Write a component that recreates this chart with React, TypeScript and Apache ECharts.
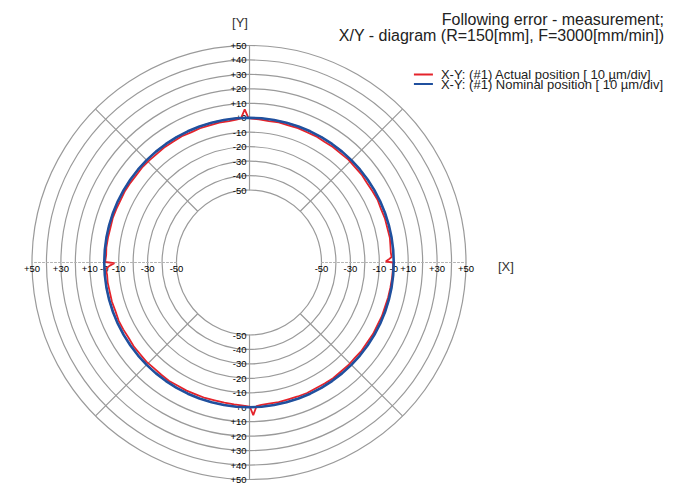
import React, { useEffect, useRef } from "react";
import * as echarts from "echarts";

// ---------- texts ----------
const TITLE_LINES = [
  "Following error - measurement;",
  "X/Y - diagram (R=150[mm], F=3000[mm/min])",
];
const SERIES_ACTUAL = "X-Y: (#1) Actual position [ 10 \u00b5m/div]";
const SERIES_NOMINAL = "X-Y: (#1) Nominal position [ 10 \u00b5m/div]";
const AXIS_NAME_X = "[X]";
const AXIS_NAME_Y = "[Y]";

// ---------- ring scale (µm deviation) ----------
const RING_VALUES = [-50, -40, -30, -20, -10, 0, 10, 20, 30, 40, 50];
const VERTICAL_TICK_LABELS = ["-50", "-40", "-30", "-20", "-10", "+0", "+10", "+20", "+30", "+40", "+50"];
const HORIZONTAL_TICK_LABELS = ["-50", "", "-30", "", "-10", "-0", "+10", "", "+30", "", "+50"];

// ---------- data: [angle in degrees (CCW from +X), radial deviation in µm] ----------
const ACTUAL_TRACE: [number, number][] = [
  [0, -0.4], [0.4, -5.5], [1.2, -3.6], [2.2, -1.4], [4, -1.8], [7, -1.6], [10, -1.2],
  [14, -1.5], [18, -1.3], [22, -1.6], [26, -1.2], [30, -1.5], [34, -1.7], [38, -1.3],
  [42, -1.5], [46, -1.2], [50, -1.6], [54, -1.4], [58, -1.7], [62, -1.3], [66, -1.5],
  [70, -1.2], [74, -1.4], [78, -1.1], [82, -1.3], [86, -0.9], [89, -0.5], [90.2, -0.2],
  [91.6, 5.8], [93.2, -0.3], [95, -1.0], [98, -1.4], [102, -1.2], [106, -1.5], [110, -1.3],
  [114, -1.6], [118, -1.2], [122, -1.5], [126, -1.3], [130, -1.6], [134, -1.4], [138, -1.2],
  [142, -1.5], [146, -1.3], [150, -1.1], [154, -1.4], [158, -1.2], [162, -1.0], [166, -1.3],
  [170, -1.1], [174, -0.9], [177, -1.2], [179.8, -0.6], [180.3, -7.0], [181.3, -3.8],
  [182.5, -1.0], [185, -1.6], [188, -1.4], [192, -1.7], [196, -1.5], [200, -1.8], [204, -1.4],
  [208, -1.6], [212, -1.9], [216, -1.5], [220, -1.7], [224, -1.4], [228, -1.8], [232, -1.6],
  [236, -1.3], [240, -1.7], [244, -1.5], [248, -1.8], [252, -1.6], [256, -1.9], [260, -1.7],
  [264, -1.5], [267, -1.2], [270.3, -0.5], [271.6, 5.5], [273, -0.6], [275, -1.3], [278, -1.6],
  [282, -1.4], [286, -1.7], [290, -1.5], [294, -1.3], [298, -1.6], [302, -1.4], [306, -1.2],
  [310, -1.5], [314, -1.3], [318, -1.6], [322, -1.2], [326, -1.4], [330, -1.1], [334, -1.3],
  [338, -1.0], [342, -1.2], [346, -0.9], [350, -0.8], [354, -0.6], [357, -0.5], [360, -0.4],
];
// nominal path: zero deviation all round (sampling angles of the circle)
const NOMINAL_DEVIATION = 0;
const NOMINAL_ANGLES = Array.from({ length: 73 }, (_, i) => i * 5);

// ---------- styles ----------
const SANS = "'Liberation Sans', Arial, sans-serif";
const RED = "#e4232b";
const BLUE = "#20509e";
const GRID = "#9a9a9a";
const CENTER = [249, 262.5];
const RADIUS = [72.5, 217];

const fmtFrom = (labels: string[]) => (v: number) => {
  const i = RING_VALUES.indexOf(Math.round(v));
  return i >= 0 ? labels[i] : "";
};

const wrap = (a: number) => (a < 45 ? a + 360 : a);

function buildOption() {
  // polar systems: 0 up, 1 left, 2 down, 3 right (axes with labels), 4 grid + data
  const startAngles = [90, 180, 270, 0, 45];
  const polar = startAngles.map(() => ({ center: CENTER, radius: RADIUS }));
  const angleAxis = startAngles.map((sa, i) => ({
    polarIndex: i,
    type: "value",
    startAngle: sa,
    clockwise: false,
    min: sa,
    max: sa + 360,
    interval: 90,
    show: i === 4,
    axisLine: { show: false },
    axisTick: { show: false },
    axisLabel: { show: false },
    splitLine: { show: i === 4, lineStyle: { color: GRID, width: 1.2 } },
  }));
  const labelBase = { fontFamily: SANS, fontSize: 9.5, color: "#000" };
  const solidLine = { show: true, lineStyle: { color: GRID, width: 1.2 } };
  const dottedLine = { show: true, lineStyle: { color: "#b2b2b2", width: 1, type: [2, 2] } };
  const common = {
    type: "value",
    min: RING_VALUES[0],
    max: RING_VALUES[RING_VALUES.length - 1],
    interval: 10,
    axisTick: { show: false },
    splitLine: { show: false },
    splitArea: { show: false },
  };
  const radiusAxis = [
    {
      ...common,
      polarIndex: 0,
      axisLine: solidLine,
      axisLabel: { ...labelBase, margin: 2.5, formatter: fmtFrom(VERTICAL_TICK_LABELS) },
      name: AXIS_NAME_Y,
      nameLocation: "end",
      nameGap: 17,
      nameTextStyle: { fontFamily: SANS, fontSize: 13, color: "#333", padding: [0, 18, 0, 0] },
    },
    {
      ...common,
      polarIndex: 1,
      axisLine: dottedLine,
      axisLabel: { ...labelBase, margin: 0.5, formatter: fmtFrom(HORIZONTAL_TICK_LABELS) },
    },
    {
      ...common,
      polarIndex: 2,
      axisLine: solidLine,
      axisLabel: { ...labelBase, margin: -2.5, align: "right", formatter: fmtFrom(VERTICAL_TICK_LABELS) },
    },
    {
      ...common,
      polarIndex: 3,
      axisLine: dottedLine,
      axisLabel: { ...labelBase, margin: -0.5, verticalAlign: "top", formatter: fmtFrom(HORIZONTAL_TICK_LABELS) },
      name: AXIS_NAME_X,
      nameLocation: "end",
      nameGap: 32,
      nameTextStyle: { fontFamily: SANS, fontSize: 13, color: "#333", verticalAlign: "top", lineHeight: 8 },
    },
    {
      ...common,
      polarIndex: 4,
      axisLine: { show: false },
      axisLabel: { show: false },
      splitLine: { show: true, lineStyle: { color: GRID, width: 1.2 } },
    },
  ];

  return {
    animation: false,
    backgroundColor: "#fff",
    title: {
      text: TITLE_LINES.join("\n"),
      left: 659,
      top: 6,
      textAlign: "right",
      textStyle: { fontFamily: SANS, fontSize: 16, fontWeight: "normal", color: "#222", lineHeight: 16 },
    },
    legend: {
      orient: "vertical",
      right: 17,
      top: 63,
      align: "left",
      icon: "rect",
      itemWidth: 19,
      itemHeight: 2,
      itemGap: -3.5,
      textStyle: { fontFamily: SANS, fontSize: 13, color: "#222", lineHeight: 12, padding: [0, 0, 0, 3] },
      data: [SERIES_ACTUAL, SERIES_NOMINAL],
    },
    polar,
    angleAxis,
    radiusAxis,
    series: [
      {
        name: SERIES_ACTUAL,
        type: "line",
        coordinateSystem: "polar",
        polarIndex: 4,
        showSymbol: false,
        symbol: "none",
        color: RED,
        lineStyle: { color: RED, width: 1.8 },
        data: ACTUAL_TRACE.map(([a, d]) => [d, wrap(a)]),
        z: 3,
      },
      {
        name: SERIES_NOMINAL,
        type: "line",
        coordinateSystem: "polar",
        polarIndex: 4,
        showSymbol: false,
        symbol: "none",
        color: BLUE,
        lineStyle: { color: BLUE, width: 2.6 },
        data: NOMINAL_ANGLES.map((a) => [NOMINAL_DEVIATION, wrap(a)]),
        z: 4,
      },
    ],
  };
}

export default function App() {
  const ref = useRef<HTMLDivElement>(null);
  useEffect(() => {
    if (!ref.current) return;
    const chart = echarts.init(ref.current, undefined, { renderer: "svg" });
    chart.setOption(buildOption() as any);
    return () => chart.dispose();
  }, []);
  return (
    <div
      ref={ref}
      style={{ position: "fixed", left: 0, top: 0, width: 685, height: 483, background: "#fff" }}
    />
  );
}
